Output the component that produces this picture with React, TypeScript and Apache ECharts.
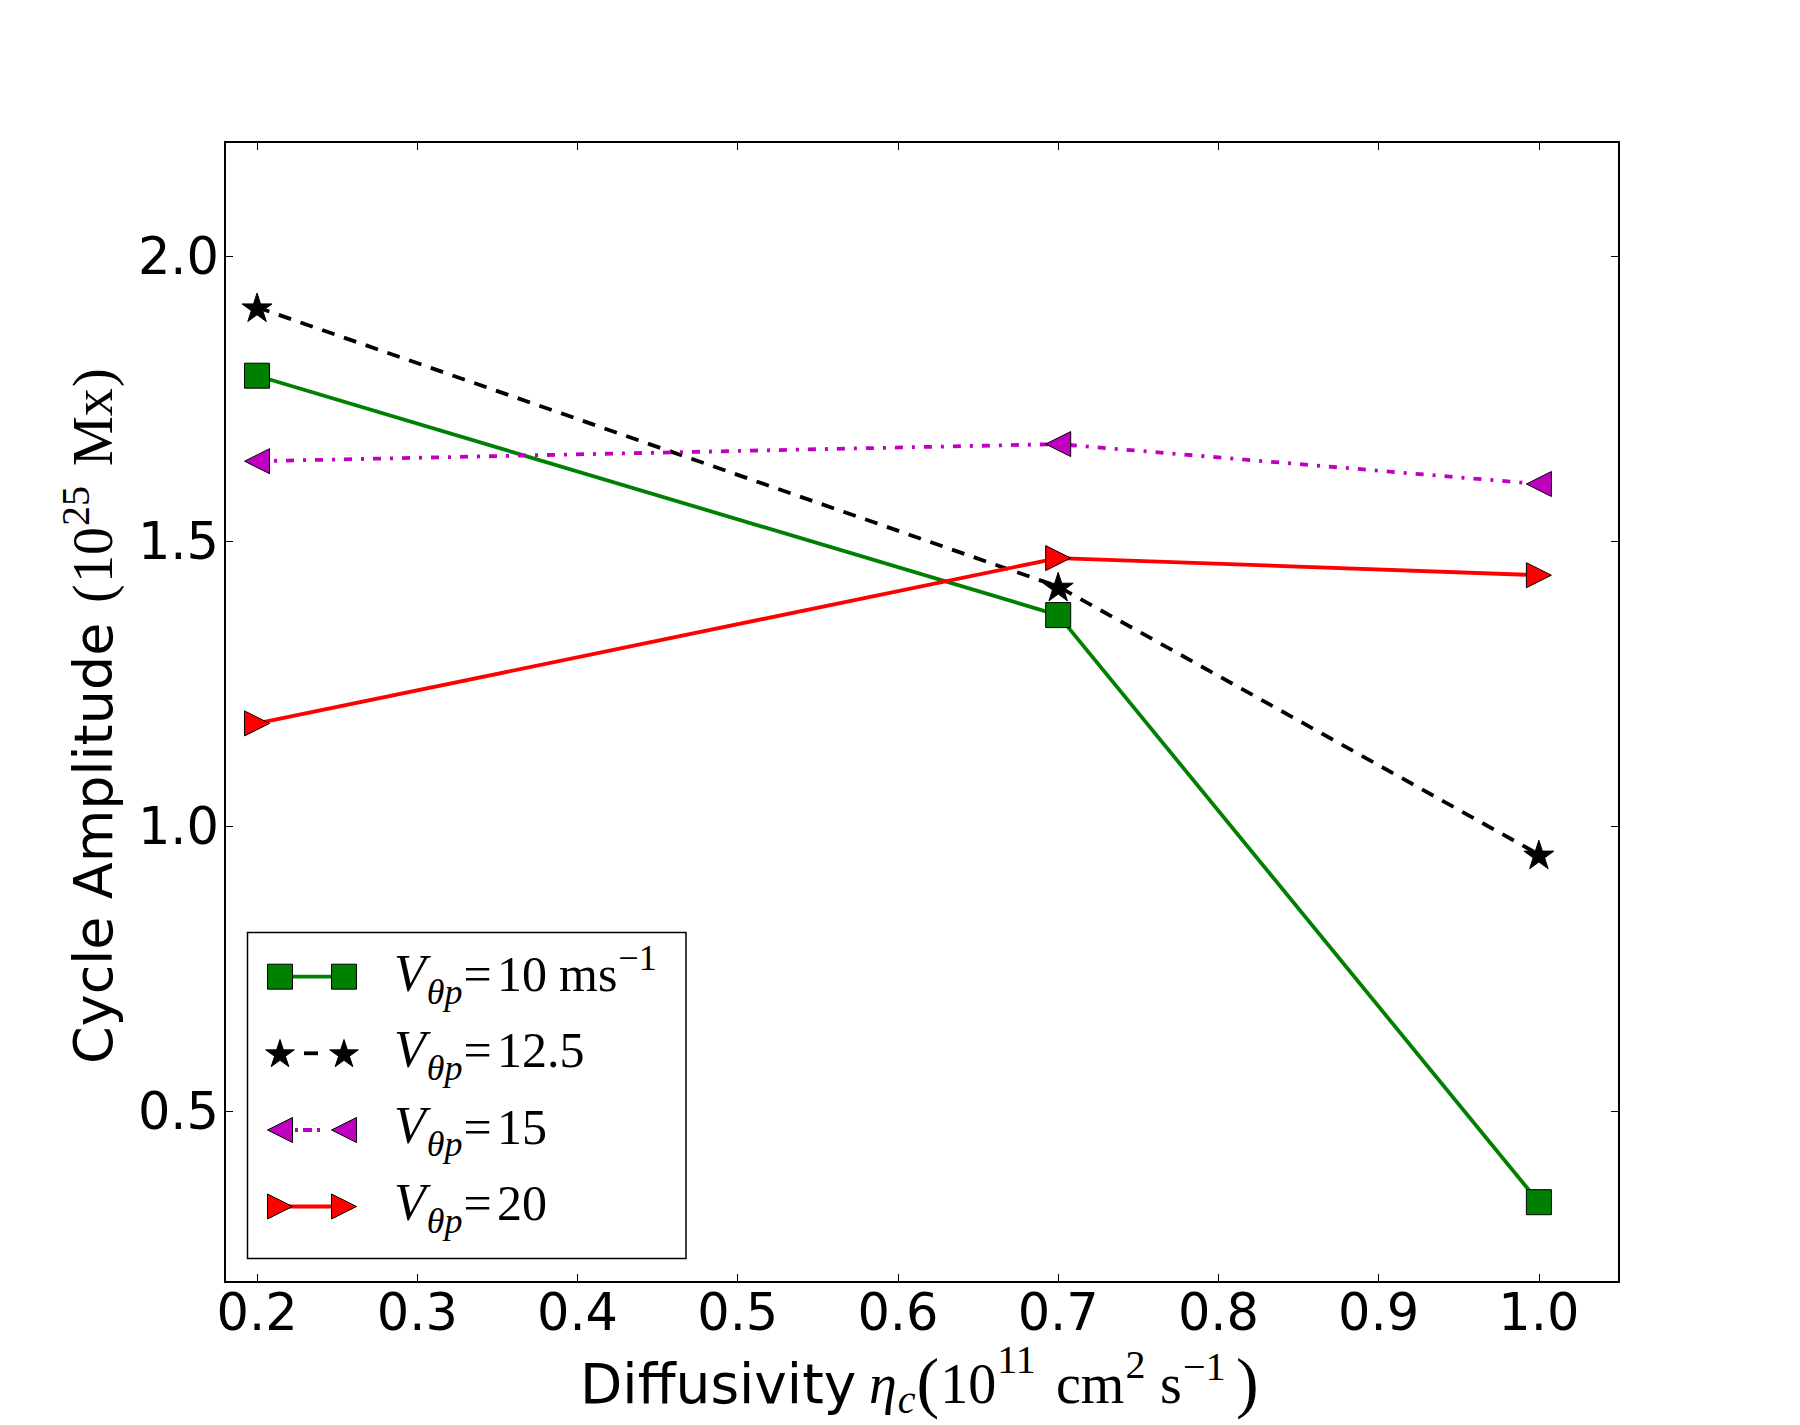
import React, { useEffect, useRef } from 'react';
import * as echarts from 'echarts';

// ---------------- data ----------------
const diffusivity = [0.2, 0.7, 1.0];
const ampV10 = [1.79, 1.37, 0.34];
const ampV125 = [1.91, 1.42, 0.95];
const ampV15 = [1.64, 1.67, 1.6];
const ampV20 = [1.18, 1.47, 1.44];
const xTicks = [0.2, 0.3, 0.4, 0.5, 0.6, 0.7, 0.8, 0.9, 1.0];
const yTicks = [0.5, 1.0, 1.5, 2.0];
const legendValues = ['10', '12.5', '15', '20'];
const seriesNames = ['V10', 'V12.5', 'V15', 'V20'];

const GREEN = '#008000';
const MAGENTA = '#bf00bf';
const RED = '#ff0000';
const BLACK = '#000000';
const LW = 3.8;

const SANS = '"DejaVu Sans", sans-serif';
const SERIF = '"Liberation Serif", "DejaVu Serif", serif';

const STAR_PATH =
  'path://M50,0 L61.2,34.5 L97.6,34.5 L68.2,55.9 L79.4,90.5 L50,69.1 L20.6,90.5 L31.8,55.9 L2.4,34.5 L38.8,34.5 Z';
const TRI_LEFT = 'path://M0,50 L100,0 L100,100 Z';
const TRI_RIGHT = 'path://M100,50 L0,0 L0,100 Z';

let measureCtx: CanvasRenderingContext2D | null = null;
function measure(text: string, size: number, family: string, italic: boolean) {
  if (!measureCtx) measureCtx = document.createElement('canvas').getContext('2d');
  if (!measureCtx) return text.length * size * 0.5;
  measureCtx.font = `${italic ? 'italic ' : ''}${size}px ${family}`;
  return measureCtx.measureText(text).width;
}

function txt(text: string, x: number, baseline: number, size: number, family: string, italic = false) {
  return {
    type: 'text',
    x,
    y: baseline - 0.34 * size,
    silent: true,
    style: {
      text,
      fontSize: size,
      fontFamily: family,
      fontStyle: italic ? 'italic' : 'normal',
      fill: '#000',
      textAlign: 'left',
      textVerticalAlign: 'middle',
      align: 'left',
      verticalAlign: 'middle',
    },
  };
}

type Seg = { text: string; x: number; dy: number; size: number; family: string; italic?: boolean };

// lays out segments at their wanted x, but never lets a segment start before the previous one ends
function run(segs: Seg[], baseline: number) {
  let prevEnd = -Infinity;
  return segs.map((s) => {
    const x = Math.max(s.x, prevEnd + 1);
    prevEnd = x + measure(s.text, s.size, s.family, !!s.italic);
    return txt(s.text, x, baseline + s.dy, s.size, s.family, !!s.italic);
  });
}

function starPoints(cx: number, cy: number, R: number) {
  const pts: number[][] = [];
  for (let i = 0; i < 10; i++) {
    const ang = -Math.PI / 2 + (i * Math.PI) / 5;
    const r = i % 2 === 0 ? R : R * 0.382;
    pts.push([cx + r * Math.cos(ang), cy + r * Math.sin(ang)]);
  }
  return pts;
}

function buildLegend() {
  const children: any[] = [];
  children.push({
    type: 'rect',
    shape: { x: 247.5, y: 932.5, width: 438.5, height: 326 },
    style: { fill: '#fff', stroke: '#000', lineWidth: 1.5 },
  });
  const rowY = [976.7, 1053.3, 1130, 1206.5];
  const x1 = 280;
  const x2 = 344;
  const s = 25;
  // row 1: green squares
  children.push({ type: 'line', shape: { x1, y1: rowY[0], x2, y2: rowY[0] }, style: { stroke: GREEN, lineWidth: LW } });
  [x1, x2].forEach((cx) =>
    children.push({
      type: 'rect',
      shape: { x: cx - s / 2, y: rowY[0] - s / 2, width: s, height: s },
      style: { fill: GREEN, stroke: '#000', lineWidth: 1 },
    })
  );
  // row 2: stars, dashed
  children.push({ type: 'line', shape: { x1: 304, y1: rowY[1], x2: 318, y2: rowY[1] }, style: { stroke: BLACK, lineWidth: LW } });
  [x1, x2].forEach((cx) =>
    children.push({
      type: 'polygon',
      shape: { points: starPoints(cx, rowY[1] + 1.2, 15) },
      style: { fill: BLACK, stroke: '#000', lineWidth: 1 },
    })
  );
  // row 3: left triangles, dash-dot
  children.push({
    type: 'line',
    shape: { x1: 295, y1: rowY[2], x2: 331, y2: rowY[2] },
    style: { stroke: MAGENTA, lineWidth: LW, lineDash: [3, 5, 9, 5, 3, 20] },
  });
  [x1, x2].forEach((cx) =>
    children.push({
      type: 'polygon',
      shape: { points: [[cx - s / 2, rowY[2]], [cx + s / 2, rowY[2] - s / 2], [cx + s / 2, rowY[2] + s / 2]] },
      style: { fill: MAGENTA, stroke: '#000', lineWidth: 1 },
    })
  );
  // row 4: right triangles
  children.push({ type: 'line', shape: { x1, y1: rowY[3], x2, y2: rowY[3] }, style: { stroke: RED, lineWidth: LW } });
  [x1, x2].forEach((cx) =>
    children.push({
      type: 'polygon',
      shape: { points: [[cx + s / 2, rowY[3]], [cx - s / 2, rowY[3] - s / 2], [cx - s / 2, rowY[3] + s / 2]] },
      style: { fill: RED, stroke: '#000', lineWidth: 1 },
    })
  );
  // labels
  legendValues.forEach((v, i) => {
    const B = 991 + 76.3 * i;
    const segs: Seg[] = [
      { text: 'V', x: 394, dy: 0, size: 52, family: SERIF, italic: true },
      { text: 'θp', x: 421, dy: 13, size: 36, family: SERIF, italic: true },
      { text: '=', x: 462, dy: 0, size: 50, family: SERIF },
      { text: v, x: 497, dy: 0, size: 50, family: SERIF },
    ];
    if (i === 0) {
      segs.push({ text: 'ms', x: 559, dy: 0, size: 50, family: SERIF });
      segs.push({ text: '−1', x: 618, dy: -21, size: 36, family: SERIF });
    }
    run(segs, B).forEach((e) => children.push(e));
  });
  return { type: 'group', z: 100, children };
}

function buildXLabel() {
  const B = 1403;
  return {
    type: 'group',
    children: run(
      [
        { text: 'Diffusivity', x: 580, dy: 0, size: 55, family: SANS },
        { text: 'η', x: 869, dy: 0, size: 56, family: SERIF, italic: true },
        { text: 'c', x: 896, dy: 10, size: 40, family: SERIF, italic: true },
        { text: '(', x: 915, dy: 2, size: 68, family: SERIF },
        { text: '10', x: 934, dy: 0, size: 56, family: SERIF },
        { text: '11', x: 988, dy: -30, size: 40, family: SERIF },
        { text: 'cm', x: 1056, dy: 0, size: 56, family: SERIF },
        { text: '2', x: 1125, dy: -25, size: 40, family: SERIF },
        { text: 's', x: 1160, dy: 0, size: 56, family: SERIF },
        { text: '−1', x: 1183, dy: -23, size: 40, family: SERIF },
        { text: ')', x: 1236, dy: 2, size: 68, family: SERIF },
      ],
      B
    ),
  };
}

function buildYLabel() {
  return {
    type: 'group',
    x: 112,
    y: 1064,
    rotation: Math.PI / 2,
    children: run(
      [
        { text: 'Cycle Amplitude', x: 0, dy: 0, size: 54, family: SANS },
        { text: '(', x: 461, dy: 0, size: 56, family: SERIF },
        { text: '10', x: 481, dy: 0, size: 56, family: SERIF },
        { text: '25', x: 538, dy: -23, size: 40, family: SERIF },
        { text: 'Mx', x: 598, dy: 0, size: 56, family: SERIF },
        { text: ')', x: 677, dy: 0, size: 56, family: SERIF },
      ],
      0
    ),
  };
}

function toPairs(ys: number[]) {
  return diffusivity.map((x, i) => [x, ys[i]]);
}

export default function App() {
  const ref = useRef<HTMLDivElement>(null);
  useEffect(() => {
    document.body.style.margin = '0';
    if (!ref.current) return;
    const chart = echarts.init(ref.current, null, { renderer: 'svg' });

    const axisCommonX = {
      type: 'value',
      min: 0.18,
      max: 1.05,
      splitLine: { show: false },
      axisLine: { show: true, onZero: false, lineStyle: { color: '#000', width: 2 } },
      axisTick: { show: true, inside: true, length: 8, customValues: xTicks, lineStyle: { color: '#000', width: 1 } },
    };
    const axisCommonY = {
      type: 'value',
      min: 0.2,
      max: 2.2,
      splitLine: { show: false },
      axisLine: { show: true, onZero: false, lineStyle: { color: '#000', width: 2 } },
      axisTick: { show: true, inside: true, length: 8, customValues: yTicks, lineStyle: { color: '#000', width: 1 } },
    };

    const lineSeries = (name: string, ys: number[], color: string, symbol: string, size: number, type: any, keep = false) => ({
      name,
      type: 'line',
      data: toPairs(ys),
      symbol,
      symbolSize: size,
      symbolKeepAspect: keep,
      showAllSymbol: true,
      lineStyle: { color, width: LW, type },
      itemStyle: { color, borderColor: '#000', borderWidth: 1 },
      emphasis: { disabled: true },
      z: 2,
    });

    chart.setOption({
      animation: false,
      backgroundColor: '#fff',
      grid: { left: 225, top: 142, right: 181, bottom: 143, containLabel: false, outerBoundsMode: 'none' },
      xAxis: [
        {
          ...axisCommonX,
          position: 'bottom',
          axisLabel: {
            show: true,
            customValues: xTicks,
            formatter: (v: number) => v.toFixed(1),
            fontSize: 51,
            fontFamily: SANS,
            color: '#000',
            margin: 5,
          },
        },
        { ...axisCommonX, position: 'top', axisLabel: { show: false } },
      ],
      yAxis: [
        {
          ...axisCommonY,
          position: 'left',
          axisLabel: {
            show: true,
            customValues: yTicks,
            formatter: (v: number) => v.toFixed(1),
            fontSize: 51,
            fontFamily: SANS,
            color: '#000',
            margin: 6,
          },
        },
        { ...axisCommonY, position: 'right', axisLabel: { show: false } },
      ],
      series: [
        lineSeries(seriesNames[0], ampV10, GREEN, 'rect', 25, 'solid'),
        lineSeries(seriesNames[1], ampV125, BLACK, STAR_PATH, 30, [13, 10], true),
        lineSeries(seriesNames[2], ampV15, MAGENTA, TRI_LEFT, 25, [8, 9, 3, 9]),
        lineSeries(seriesNames[3], ampV20, RED, TRI_RIGHT, 25, 'solid'),
      ],
      graphic: [buildLegend(), buildXLabel(), buildYLabel()],
    });
    return () => chart.dispose();
  }, []);
  return <div ref={ref} style={{ width: 1800, height: 1425 }} />;
}
